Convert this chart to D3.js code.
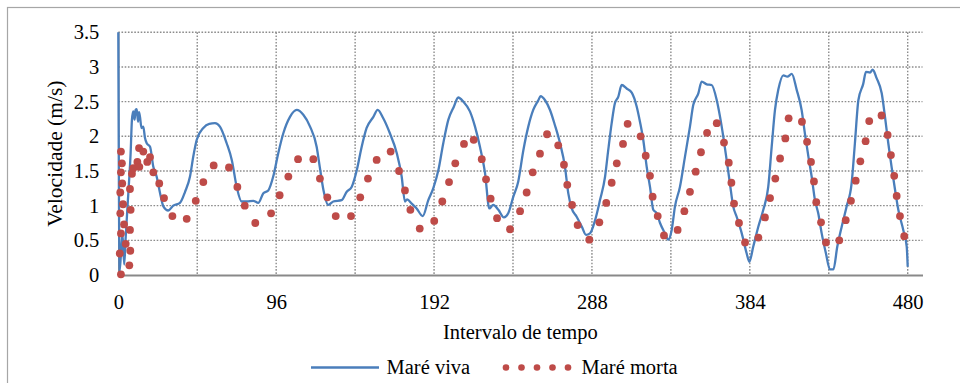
<!DOCTYPE html>
<html>
<head>
<meta charset="utf-8">
<script src="https://cdn.jsdelivr.net/npm/d3@7/dist/d3.min.js"></script>
<style>
  html, body { margin: 0; padding: 0; background: #fff; }
  svg { display: block; }
  .lbl { font-family: "Liberation Serif"; font-size: 20.5px; fill: #000; }
</style>
</head>
<body>
<svg id="chart" width="960" height="383"></svg>
<script>
// Maré viva: time interval and velocity (m/s)
const vivaT = [0, 0.8, 2.5, 3.6, 4.5, 6.1, 7.5, 8.3, 9.1, 9.9, 10.5, 11.2, 12.0, 12.6, 13.2, 14.1, 15.2, 16.2, 17.3, 19.3,
  21.3, 23.3, 25.4, 27.4, 30.4, 33.4, 37.5, 40.6, 43.6, 45.6, 47.7, 51.7, 55.3, 58.8, 61.8, 65.9, 69.0, 72.0, 75.0, 78.1,
  82.1, 85.1, 88.2, 91.2, 94.2, 97.3, 100.3, 104.4, 108.5, 112.5, 116.6, 120.6, 122.5, 124.7, 127.7, 130.7, 135.8, 138.9, 141.9, 145.0,
  148.0, 151.0, 155.1, 157.7, 161.1, 165.2, 169.3, 172.3, 174.3, 175.6, 178.4, 181.4, 185.1, 188.5, 191.5, 194.6, 197.6, 200.7, 204.1, 206.7,
  209.8, 213.8, 216.9, 219.9, 223.0, 225.6, 228.0, 231.1, 234.5, 237.1, 240.2, 243.2, 246.3, 249.3, 252.3, 255.4, 256.8, 259.5, 262.5, 265.5,
  268.6, 271.6, 273.6, 275.7, 278.7, 281.8, 284.4, 286.8, 289.9, 292.9, 296.0, 297.9, 300.0, 302.0, 304.0, 306.1, 309.1, 312.2, 315.2, 317.2,
  319.2, 321.3, 323.3, 325.3, 327.4, 329.4, 332.4, 334.4, 336.5, 338.5, 341.5, 344.6, 347.6, 349.6, 352.7, 354.7, 357.8, 360.8, 363.9, 365.9,
  367.9, 369.9, 371.9, 373.9, 376.0, 379.1, 382.1, 383.7, 386.1, 389.2, 392.2, 395.2, 397.3, 399.3, 401.3, 404.4, 406.8, 409.5, 412.5, 415.5,
  417.5, 419.6, 421.6, 423.6, 425.6, 427.7, 430.3, 432.7, 434.8, 437.2, 439.9, 442.9, 445.9, 447.9, 450.0, 453.0, 454.6, 457.1, 458.7, 461.1,
  464.2, 466.2, 468.2, 470.2, 472.3, 474.3, 477.3, 479.4, 480.0];
const vivaV = [3.5, 0.05, 0.6, 0.15, 0.55, 1.18, 1.76, 2.24, 2.36, 2.24, 2.38, 2.39, 2.21, 2.35, 2.28, 2.12, 2.14, 1.98, 1.90, 1.85,
  1.56, 1.42, 1.18, 0.99, 0.93, 1.00, 1.04, 1.20, 1.42, 1.71, 1.95, 2.12, 2.18, 2.19, 2.14, 1.90, 1.66, 1.27, 1.06, 1.06,
  1.07, 1.04, 1.18, 1.22, 1.42, 1.76, 2.04, 2.28, 2.38, 2.31, 2.14, 1.85, 1.56, 1.23, 1.01, 1.06, 1.08, 1.20, 1.27, 1.51,
  1.85, 2.12, 2.28, 2.38, 2.26, 2.04, 1.76, 1.42, 1.06, 1.09, 1.03, 0.96, 0.85, 1.08, 1.25, 1.51, 1.90, 2.24, 2.43, 2.56,
  2.50, 2.36, 2.14, 1.85, 1.47, 0.96, 1.01, 0.94, 0.83, 0.89, 1.13, 1.35, 1.80, 2.14, 2.38, 2.52, 2.58, 2.52, 2.38, 2.16,
  1.90, 1.56, 1.18, 0.96, 0.84, 0.70, 0.58, 0.60, 0.79, 1.08, 1.42, 1.80, 2.19, 2.48, 2.57, 2.74, 2.69, 2.63, 2.43, 2.21,
  1.95, 1.56, 1.27, 0.94, 0.89, 0.75, 0.60, 0.51, 0.65, 0.99, 1.27, 1.71, 2.14, 2.45, 2.62, 2.79, 2.75, 2.74, 2.52, 2.28,
  1.99, 1.66, 1.32, 0.99, 0.84, 0.60, 0.31, 0.19, 0.41, 0.70, 0.94, 1.27, 1.85, 2.38, 2.67, 2.88, 2.86, 2.90, 2.67, 2.38,
  2.04, 1.71, 1.42, 1.08, 0.89, 0.60, 0.31, 0.08, 0.08, 0.41, 0.70, 0.99, 1.32, 1.90, 2.52, 2.76, 2.93, 2.92, 2.96, 2.84,
  2.62, 2.28, 1.90, 1.56, 1.23, 0.94, 0.65, 0.41, 0.12];

// Maré morta: time interval and velocity (m/s)
const mortaT = [1.6, 2.2, 1.6, 2.4, 1.2, 2.9, 1.2, 3.5, 1.6, 4.5, 0.9, 1.6, 7.1, 7.5, 7.1, 7.3, 6.7,
  8.3, 9.1, 11.6, 12.8, 12.6, 15.2, 17.6, 19.3, 21.3, 24.9, 27.8, 32.9, 41.6, 47.1, 51.7, 58.0, 67.3, 72.4, 76.9,
  83.3, 92.9, 98.1, 103.4, 109.3, 118.6, 122.6, 127.1, 132.2, 141.5, 147.1, 151.8, 157.1, 165.6, 170.7, 174.3, 177.6, 183.3,
  192.1, 197.0, 201.1, 204.9, 210.2, 216.1, 221.0, 223.6, 226.4, 230.3, 238.2, 244.3, 248.3, 252.0, 256.4, 260.7, 267.5,
  271.0, 273.0, 275.9, 279.3, 286.4, 292.5, 296.7, 300.0, 303.1, 306.9, 309.7, 317.6, 320.7, 323.3, 324.9, 328.0, 331.8,
  340.1, 344.2, 347.6, 351.1, 354.3, 358.0, 363.9, 368.3, 371.2, 372.8, 374.4, 377.4, 381.1, 389.2, 393.2, 396.3, 399.5,
  402.4, 405.6, 407.6, 415.7, 418.8, 421.2, 423.0, 424.4, 427.3, 430.3, 438.4, 442.3, 445.5, 448.4, 451.2, 454.4, 456.6,
  464.1, 467.8, 469.8, 471.8, 473.3, 475.3, 477.9];
const mortaV = [1.78, 1.61, 1.48, 1.32, 1.19, 1.02, 0.89, 0.73, 0.60, 0.45, 0.31, 0.01, 1.24, 0.94, 0.65, 0.35, 0.14,
  1.46, 1.54, 1.63, 1.56, 1.83, 1.78, 1.63, 1.70, 1.48, 1.32, 1.11, 0.85, 0.81, 1.07, 1.34, 1.58, 1.55, 1.27, 1.00,
  0.75, 0.89, 1.15, 1.42, 1.67, 1.67, 1.39, 1.12, 0.85, 0.85, 1.12, 1.39, 1.66, 1.78, 1.50, 1.22, 0.94, 0.67,
  0.78, 1.06, 1.34, 1.61, 1.89, 1.95, 1.67, 1.38, 1.10, 0.82, 0.66, 0.92, 1.19, 1.48, 1.75, 2.03, 1.87,
  1.59, 1.30, 1.01, 0.72, 0.51, 0.76, 1.04, 1.33, 1.61, 1.89, 2.18, 2.00, 1.72, 1.43, 1.13, 0.85, 0.57,
  0.65, 0.92, 1.20, 1.49, 1.77, 2.05, 2.19, 1.91, 1.62, 1.33, 1.03, 0.75, 0.47, 0.54, 0.83, 1.11, 1.39,
  1.68, 1.97, 2.26, 2.21, 1.92, 1.63, 1.35, 1.05, 0.76, 0.47, 0.50, 0.79, 1.07, 1.36, 1.64, 1.93, 2.22,
  2.30, 2.02, 1.73, 1.43, 1.14, 0.85, 0.56];

const xTicks = [0, 96, 192, 288, 384, 480];
const xGrid = [48, 96, 144, 192, 240, 288, 336, 384, 432, 480];
const yTicks = [0, 0.5, 1, 1.5, 2, 2.5, 3, 3.5];
const seriesNames = ["Maré viva", "Maré morta"];
const xTitle = "Intervalo de tempo";
const yTitle = "Velocidade (m/s)";

const svg = d3.select("#chart");
const blue = "#4a7ebb";
const red = "#be4b48";
const axisGray = "#898989";
const gridGray = "#8c8c8c";
const serif = "Liberation Serif";

// outer chart frame
svg.append("rect").attr("x", 7.5).attr("y", 7.5).attr("width", 970).attr("height", 400)
  .attr("fill", "none").attr("stroke", "#a6a6a6").attr("stroke-width", 1.2);

const x = d3.scaleLinear().domain([0, 489]).range([118.3, 922.5]);
const y = d3.scaleLinear().domain([0, 3.5]).range([275, 32.3]);

const grid = svg.append("g");
// horizontal gridlines
grid.selectAll("line.h").data(yTicks.filter(d => d > 0)).join("line")
  .attr("x1", x(0)).attr("x2", x(489))
  .attr("y1", d => y(d)).attr("y2", d => y(d))
  .attr("stroke", gridGray).attr("stroke-width", 1.4).attr("stroke-dasharray", "1.6,1.6");
// vertical gridlines
grid.selectAll("line.v").data(xGrid).join("line")
  .attr("x1", d => x(d)).attr("x2", d => x(d))
  .attr("y1", y(3.5)).attr("y2", y(0))
  .attr("stroke", gridGray).attr("stroke-width", 1.4).attr("stroke-dasharray", "1.6,1.6");

// axes
const xAxis = d3.axisBottom(x).tickValues(xTicks).tickSize(0).tickPadding(19).tickFormat(d3.format("d"));
const gx = svg.append("g").attr("transform", `translate(0,${y(0)})`).call(xAxis);
gx.select(".domain").attr("stroke", axisGray).attr("stroke-width", 2);
gx.selectAll("text").attr("class", "lbl").style("font-family", serif).style("font-size", "20.5px");

const yAxis = d3.axisLeft(y).tickValues(yTicks).tickSize(0).tickPadding(19).tickFormat(d => String(d));
const gy = svg.append("g").attr("transform", `translate(${x(0)},0)`).call(yAxis);
gy.select(".domain").attr("stroke", axisGray).attr("stroke-width", 1.5);
gy.selectAll("text").attr("class", "lbl").style("font-family", serif).style("font-size", "20.5px");

// Maré viva line
const vivaData = vivaT.map((t, i) => [t, vivaV[i]]);
svg.append("path").datum(vivaData)
  .attr("fill", "none").attr("stroke", blue).attr("stroke-width", 2.3)
  .attr("stroke-linejoin", "round")
  .attr("d", d3.line().curve(d3.curveMonotoneX).x(d => x(d[0])).y(d => y(d[1])));

// Maré morta markers
const mortaData = mortaT.map((t, i) => [t, mortaV[i]]);
svg.append("g").selectAll("circle").data(mortaData).join("circle")
  .attr("cx", d => x(d[0])).attr("cy", d => y(d[1])).attr("r", 3.9)
  .attr("fill", red);

// axis titles
svg.append("text").attr("class", "lbl").attr("x", (x(0) + x(489)) / 2).attr("y", 339)
  .attr("text-anchor", "middle").text(xTitle);
svg.append("text").attr("class", "lbl").style("font-size", "21.5px")
  .attr("transform", `translate(62,${(y(0) + y(3.5)) / 2}) rotate(-90)`)
  .attr("text-anchor", "middle").text(yTitle);

// legend
const lg = svg.append("g").attr("transform", "translate(0,367.5)");
lg.append("line").attr("x1", 311).attr("x2", 379).attr("y1", 0).attr("y2", 0)
  .attr("stroke", blue).attr("stroke-width", 2.3);
lg.append("text").attr("class", "lbl").attr("x", 386.5).attr("y", 6).text(seriesNames[0]);
lg.selectAll("circle").data(d3.range(5)).join("circle")
  .attr("cx", i => 506 + i * 15.5).attr("cy", 0).attr("r", 3.3).attr("fill", red);
lg.append("text").attr("class", "lbl").attr("x", 581.5).attr("y", 6).text(seriesNames[1]);
</script>
</body>
</html>
